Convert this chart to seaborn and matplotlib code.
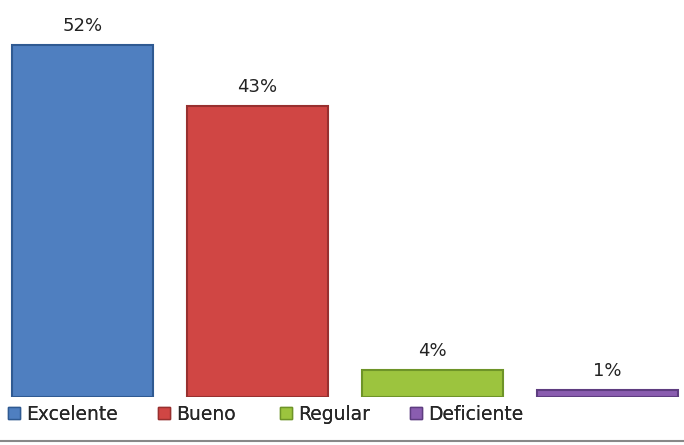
import matplotlib
matplotlib.use("Agg")
import matplotlib.pyplot as plt
import seaborn as sns
import pandas as pd
from matplotlib.lines import Line2D

categories = ["Excelente", "Bueno", "Regular", "Deficiente"]
values = [52, 43, 4, 1]
labels = ["52%", "43%", "4%", "1%"]
colors = ["#4F7FC0", "#D04644", "#9CC43E", "#8A5DB0"]
edges = ["#2F5A92", "#98302F", "#6E9428", "#5E3D80"]
legend_x_px = [8, 158, 280, 410]

sns.set_theme(style="white")
plt.rcParams['font.family'] = ['DejaVu Sans']

df = pd.DataFrame({"cat": categories, "val": values})
fig = plt.figure(figsize=(6.84, 4.45), dpi=100)
ax = fig.add_axes([0, (445 - 397) / 445, 1, 397 / 445])
sns.barplot(data=df, x="cat", y="val", hue="cat", palette=colors,
            width=0.806, dodge=False, legend=False, ax=ax, saturation=1)
for p, ec in zip(ax.patches, edges):
    p.set_edgecolor(ec)
    p.set_linewidth(1.5)
for i, (v, t) in enumerate(zip(values, labels)):
    ax.text(i, v + 1.5, t, ha="center", va="bottom", fontsize=13, color="#222222")
ax.set_xlim(-82.5 / 175, (684 - 82.5) / 175)
ax.set_ylim(0, 397 / 6.77)
ax.axis("off")

for c, e, lab, xp in zip(colors, edges, categories, legend_x_px):
    h = plt.Rectangle((0, 0), 1, 1, facecolor=c, edgecolor=e, linewidth=1)
    leg = fig.legend([h], [lab], loc="center left", bbox_to_anchor=(xp / 684, (445 - 414) / 445),
                     frameon=False, fontsize=13.5, handlelength=0.65, handleheight=0.65,
                     handletextpad=0.3, borderaxespad=0, borderpad=0)
    fig.add_artist(leg)
fig.add_artist(Line2D([0, 1], [(445 - 441) / 445] * 2, color="#888888", linewidth=1.5,
                      transform=fig.transFigure))
fig.savefig("out.png", dpi=100)
